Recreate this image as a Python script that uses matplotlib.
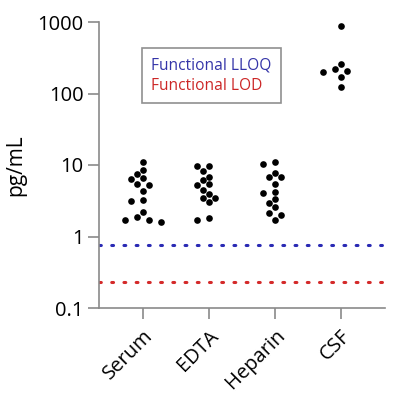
import numpy as np
import matplotlib
matplotlib.use('Agg')
import matplotlib.pyplot as plt

plt.rcParams['font.family'] = ['Open Sans', 'DejaVu Sans']

groups = ['Serum', 'EDTA', 'Heparin', 'CSF']
serum = [11.0, 8.5, 7.4, 6.6, 6.4, 5.4, 5.2, 4.3, 3.2, 3.1, 2.2, 1.87, 1.7, 1.7, 1.61]
edta = [9.8, 9.8, 8.3, 6.9, 6.2, 5.5, 5.2, 4.5, 3.9, 3.5, 3.5, 3.0, 1.8, 1.7]
heparin = [10.9, 10.2, 7.8, 6.9, 6.8, 5.5, 4.15, 4.0, 3.3, 2.9, 2.6, 2.1, 2.0, 1.7]
csf = [879, 259, 220, 208, 198, 172, 123]
lloq = 0.76
lod = 0.233

W, H, dpi = 400, 397, 100
fig = plt.figure(figsize=(W / dpi, H / dpi), dpi=dpi)
ax = fig.add_axes([99 / W, 89 / H, 286 / W, 286 / H])

xlim = (-0.66, 3.67)
ylim = (0.1, 1000)
ax.set_xlim(*xlim)
ax.set_yscale('log')
ax.set_ylim(*ylim)

# pixel -> data scale for the swarm layout
px_x = 286 / (xlim[1] - xlim[0])
px_y = 286 / np.log10(ylim[1] / ylim[0])
diam = 6.0


def swarm(vals, center):
    # greedy grid beeswarm, top to bottom
    ly = np.log10(vals) * px_y / diam
    xs = np.zeros(len(vals))
    placed = []
    cands = [0] + [s * j for j in range(1, 10) for s in (-1, 1)]
    for i in np.argsort(-ly):
        for c in cands:
            if all((c - px) ** 2 + (ly[i] - py) ** 2 >= 1.3 for px, py in placed):
                break
        placed.append((c, ly[i]))
        xs[i] = center + c * diam / px_x
    return xs


for i, vals in enumerate([serum, edta, heparin, csf]):
    vals = np.array(vals)
    ax.plot(swarm(vals, i), vals, 'o', color='black', markersize=4.8, mec='none', clip_on=False)

l1 = ax.axhline(lloq, color='#2a2ab4', linestyle=(0, (0.6, 3.4)), linewidth=2.2, dash_capstyle='round')
l2 = ax.axhline(lod, color='#d42a2a', linestyle=(0, (0.6, 3.4)), linewidth=2.2, dash_capstyle='round')

leg = ax.legend([l1, l2], ['Functional LLOQ', 'Functional LOD'], handlelength=0, handletextpad=0,
                loc='upper left', bbox_to_anchor=(0.149, 0.91), borderaxespad=0, fontsize=11.2,
                frameon=True, fancybox=False, borderpad=0.6, labelspacing=0.3)
frame = leg.get_frame()
frame.set_edgecolor('#909090')
frame.set_facecolor('white')
frame.set_alpha(1.0)
frame.set_linewidth(1.2)
for txt, c in zip(leg.get_texts(), ['#3434a8', '#cc2626']):
    txt.set_color(c)

ax.set_xticks(range(len(groups)))
ax.set_xticklabels(groups, rotation=45, ha='right', rotation_mode='anchor', fontsize=14.5)
ax.set_yticks([0.1, 1, 10, 100, 1000])
ax.set_yticklabels(['0.1', '1', '10', '100', '1000'], fontsize=14.5)
ax.minorticks_off()
ax.set_ylabel('pg/mL', fontsize=15, labelpad=8)

for s in ['top', 'right']:
    ax.spines[s].set_visible(False)
for s in ['left', 'bottom']:
    ax.spines[s].set_color('#8a8a8a')
    ax.spines[s].set_linewidth(1.2)
ax.tick_params(length=8, width=1.2, color='#8a8a8a', pad=3)
ax.tick_params(axis='x', pad=5)

fig.savefig('out.png', dpi=dpi)
